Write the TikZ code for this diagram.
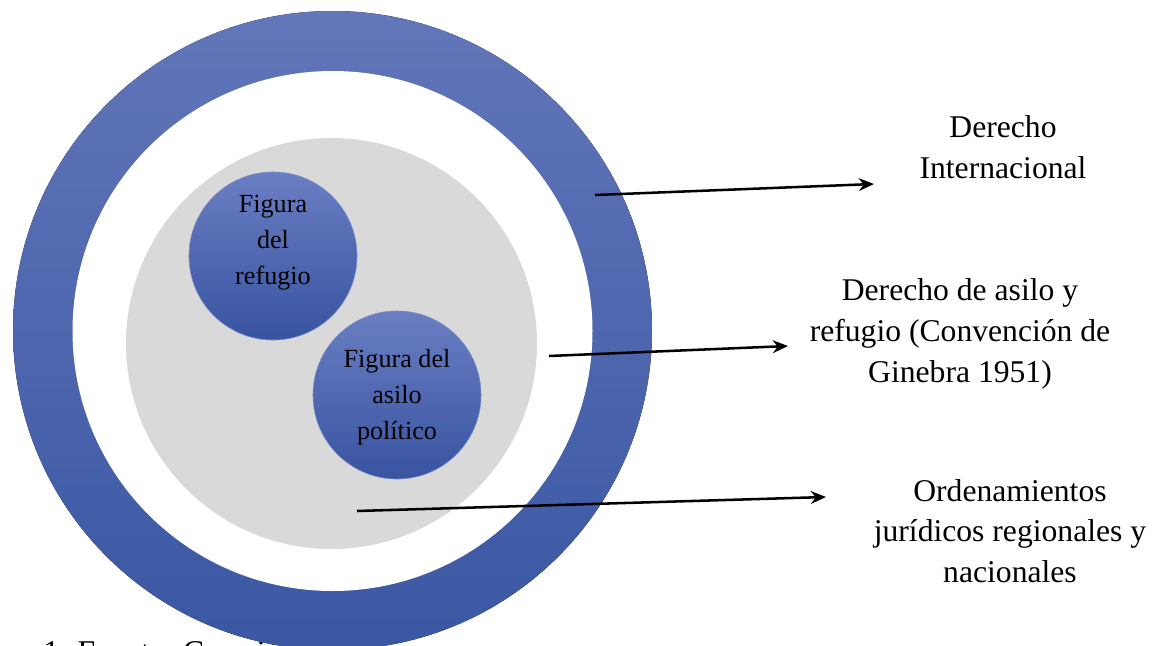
\documentclass[tikz,border=0pt]{standalone}
\usepackage{fontspec}
\setmainfont{Liberation Serif}
\usepackage{tikz}
\usetikzlibrary{arrows.meta, positioning}
\definecolor{ringtop}{RGB}{98,118,185}
\definecolor{ringbot}{RGB}{58,87,163}
\definecolor{bubtop}{RGB}{106,126,194}
\definecolor{bubbot}{RGB}{56,83,160}
\definecolor{bubedge}{RGB}{120,138,200}
\definecolor{hdrgray}{RGB}{217,217,217}
\definecolor{mydark}{RGB}{0,0,0}
\tikzset{
  bubble/.style={circle, draw=bubedge, line width=0.4pt,
    top color=bubtop, bottom color=bubbot, minimum size=4.2cm, inner sep=0pt},
  bubtext/.style={align=center, font=\fontsize{18.6}{25.5}\selectfont, color=mydark},
  sidetext/.style={align=center, font=\fontsize{22.5}{29}\selectfont, color=mydark},
  arrow/.style={-{Stealth[length=0.38cm, width=0.32cm]}, line width=1.8pt, color=mydark}
}
\begin{document}
\begin{tikzpicture}[x=0.025cm, y=-0.025cm]
  \useasboundingbox (0,0) rectangle (1167,646);
  \clip (0,0) rectangle (1167,646);
  % ── caption (hidden behind the ring) ────────────────────────────────────
  \node[sidetext, anchor=base west, inner sep=0pt] (caption) at (43,662) {1. Fuente: Creación};
  % ── outer ring ──────────────────────────────────────────────────────────
  \fill[top color=ringtop, bottom color=ringbot] (332.5,330.5) circle[radius=319.5];
  \fill[white] (332.5,331) circle[radius=260];
  % ── gray disc ───────────────────────────────────────────────────────────
  \fill[hdrgray] (331.5,343.5) circle[radius=205.5];
  % ── inner figures ───────────────────────────────────────────────────────
  \node[bubble] (refugio) at (273,256) {};
  \node[bubtext] (refugiotxt) at (273,243) {Figura\\del\\refugio};
  \node[bubble] (asilo) at (397,395) {};
  \node[bubtext] (asilotxt) at (397,397) {Figura del\\asilo\\político};
  % ── labels ──────────────────────────────────────────────────────────────
  \node[sidetext] (intl) at (1003,147) {Derecho\\Internacional};
  \node[sidetext] (ginebra) at (960,334) {Derecho de asilo y\\refugio (Convención de\\Ginebra 1951)};
  \node[sidetext] (regional) at (1010,531) {Ordenamientos\\jurídicos regionales y\\nacionales};
  % ── arrows ──────────────────────────────────────────────────────────────
  \coordinate (ringpt) at (595,195);
  \coordinate (intltip) at (874,184);
  \coordinate (graypt) at (549,356);
  \coordinate (ginebratip) at (788,346);
  \coordinate (whitept) at (357,511);
  \coordinate (regionaltip) at (826,497);
  \draw[arrow] (ringpt) -- (intltip);
  \draw[arrow] (graypt) -- (ginebratip);
  \draw[arrow] (whitept) -- (regionaltip);
\end{tikzpicture}
\end{document}
